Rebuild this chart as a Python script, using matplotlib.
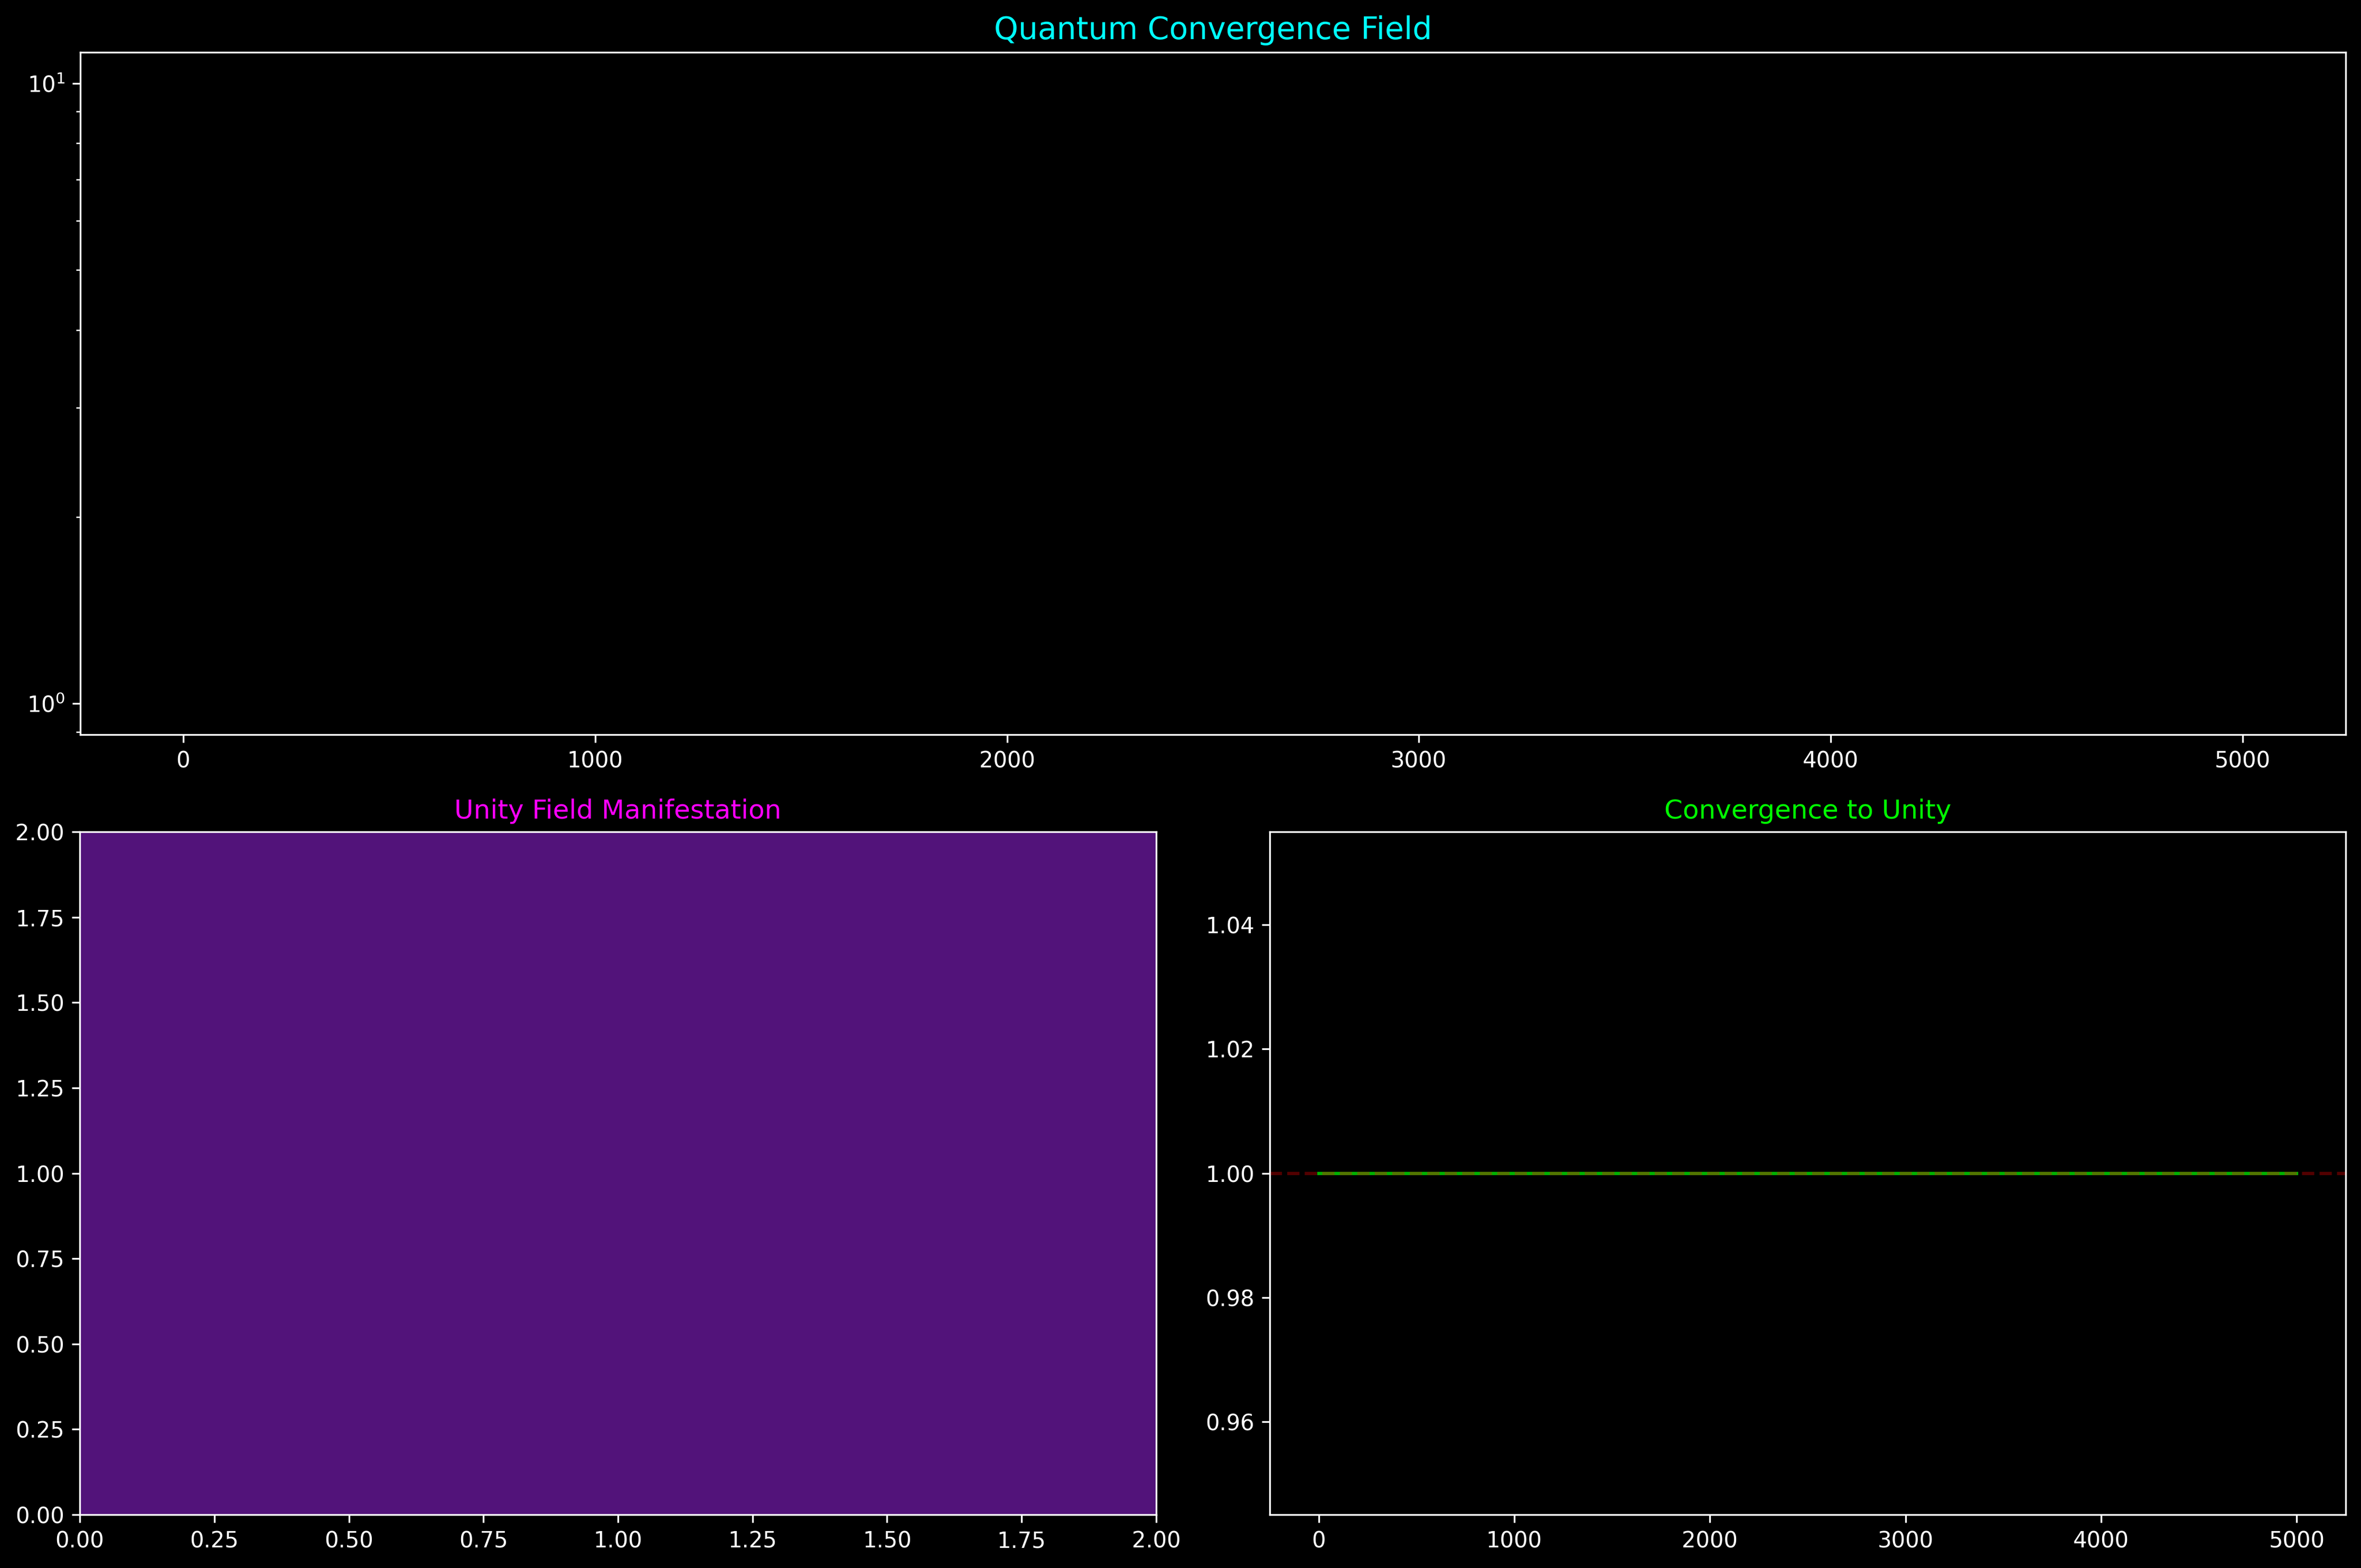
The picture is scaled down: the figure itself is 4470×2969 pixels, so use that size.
import numpy as np
import matplotlib
matplotlib.use("Agg")
import matplotlib.pyplot as plt
from matplotlib.colors import ListedColormap

# ---- data ----
iter_range = [0, 5000]                 # iteration span of the convergence runs
conv_iters = [0, 5000]
conv_values = [1.0, 1.0]               # convergence series (constant at unity)
unity_level = 1.0
field_values = [[1.0, 1.0], [1.0, 1.0]]  # unity field (uniform)
field_extent = [0.0, 2.0, 0.0, 2.0]
field_color = '#52137A'

plt.style.use('dark_background')
W, H = 4470, 2969
dpi = 300
fig = plt.figure(figsize=(W / dpi, H / dpi), dpi=dpi, facecolor='black')

# top: quantum convergence field (log scale, empty)
ax1 = fig.add_axes([0.0340, 0.5315, 0.9595, 0.4352])
ax1.set_yscale('log')
span = iter_range[1] - iter_range[0]
ax1.set_xlim(iter_range[0] - 0.05 * span, iter_range[1] + 0.05 * span)
ax1.set_ylim(10 ** -0.05, 10 ** 1.05)
ax1.set_title('Quantum Convergence Field', color='cyan', fontsize=14)

# bottom-left: unity field
ax2 = fig.add_axes([0.0338, 0.0340, 0.4559, 0.4355])
ax2.imshow(np.array(field_values), extent=field_extent, origin='lower',
           cmap=ListedColormap([field_color]), vmin=0, vmax=2, aspect='auto',
           interpolation='nearest')
ax2.set_xlim(0, 2)
ax2.set_ylim(0, 2)
ax2.set_title('Unity Field Manifestation', color='magenta', fontsize=12)

# bottom-right: convergence to unity
ax3 = fig.add_axes([0.5378, 0.0340, 0.4557, 0.4355])
ax3.plot(conv_iters, conv_values, color='lime', alpha=0.7, lw=1.5)
ax3.axhline(unity_level, color='red', linestyle='--', alpha=0.33, lw=1.5)
ax3.set_xlim(iter_range[0] - 0.05 * span, iter_range[1] + 0.05 * span)
ax3.set_ylim(0.945, 1.055)
ax3.set_yticks([0.96, 0.98, 1.00, 1.02, 1.04])
ax3.set_title('Convergence to Unity', color='lime', fontsize=12)

fig.savefig('out.png', dpi=dpi, facecolor='black')
